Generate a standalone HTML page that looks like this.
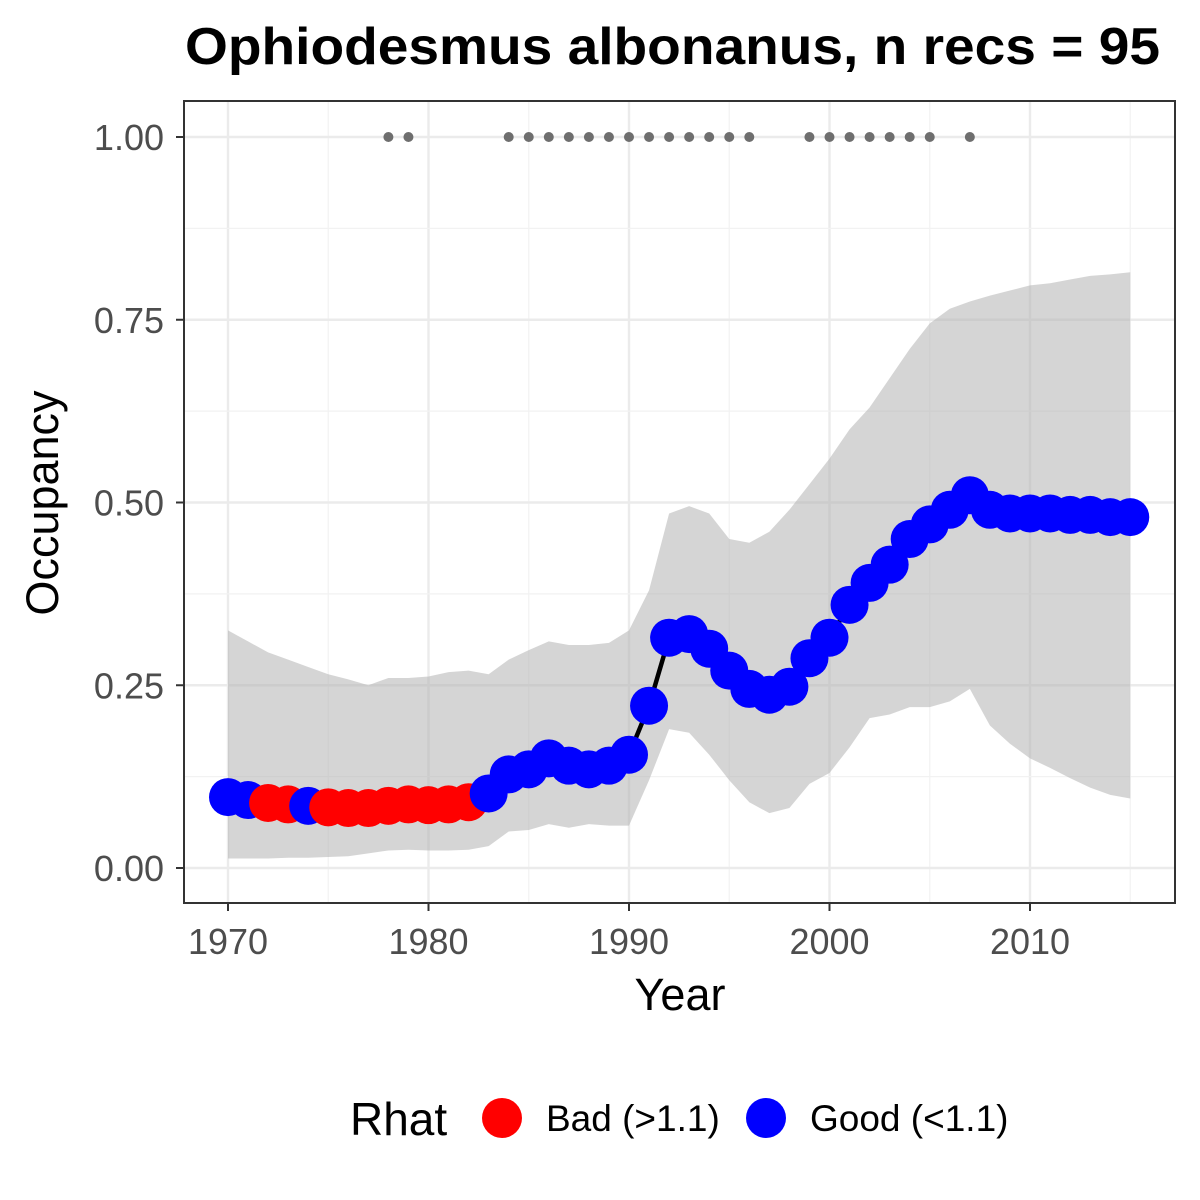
<!DOCTYPE html>
<html><head><meta charset="utf-8"><style>body{margin:0;background:#fff}svg{display:block;font-family:"Liberation Sans",Arial,sans-serif}</style></head>
<body>
<svg id="chart" width="1200" height="1200" viewBox="0 0 1200 1200">
<text x="185" y="64" font-size="52" font-weight="bold" textLength="975" lengthAdjust="spacingAndGlyphs">Ophiodesmus albonanus, n recs = 95</text>
<g id="grid"></g>
<g id="band"></g>
<g id="line"></g>
<g id="pts"></g>
<g id="recs"></g>
<rect x="184" y="101" width="991" height="802" fill="none" stroke="#333" stroke-width="2"/>
<g id="axes"></g>
<text x="680" y="1010" text-anchor="middle" font-size="45">Year</text>
<text transform="translate(58,503) rotate(-90)" text-anchor="middle" font-size="45">Occupancy</text>
<g>
<text x="350" y="1135" font-size="46">Rhat</text>
<circle cx="502" cy="1118" r="20" fill="#ff0000"/>
<text x="546" y="1131" font-size="37">Bad (&gt;1.1)</text>
<circle cx="766" cy="1118" r="20" fill="#0000ff"/>
<text x="810" y="1131" font-size="37">Good (&lt;1.1)</text>
</g>
</svg>
<script>
const years=[1970,1971,1972,1973,1974,1975,1976,1977,1978,1979,1980,1981,1982,1983,1984,1985,1986,1987,1988,1989,1990,1991,1992,1993,1994,1995,1996,1997,1998,1999,2000,2001,2002,2003,2004,2005,2006,2007,2008,2009,2010,2011,2012,2013,2014,2015];
const occ=[0.097,0.093,0.089,0.087,0.085,0.083,0.082,0.082,0.085,0.087,0.086,0.087,0.09,0.102,0.128,0.135,0.15,0.14,0.135,0.14,0.155,0.222,0.315,0.32,0.30,0.27,0.245,0.237,0.248,0.287,0.315,0.36,0.39,0.415,0.45,0.47,0.49,0.51,0.49,0.485,0.485,0.485,0.483,0.483,0.48,0.48];
const rhatBad=[0,0,1,1,0,1,1,1,1,1,1,1,1,0,0,0,0,0,0,0,0,0,0,0,0,0,0,0,0,0,0,0,0,0,0,0,0,0,0,0,0,0,0,0,0,0];
const upper=[0.325,0.31,0.295,0.285,0.275,0.265,0.258,0.25,0.26,0.26,0.262,0.268,0.27,0.265,0.285,0.298,0.31,0.305,0.305,0.308,0.325,0.38,0.485,0.495,0.485,0.45,0.445,0.46,0.49,0.525,0.56,0.6,0.63,0.67,0.71,0.745,0.765,0.775,0.783,0.79,0.797,0.8,0.805,0.81,0.812,0.815];
const lower=[0.013,0.013,0.013,0.014,0.014,0.015,0.016,0.02,0.024,0.025,0.024,0.024,0.025,0.03,0.05,0.052,0.06,0.055,0.06,0.058,0.058,0.12,0.19,0.185,0.155,0.12,0.09,0.075,0.082,0.115,0.13,0.165,0.205,0.21,0.22,0.22,0.228,0.245,0.195,0.17,0.15,0.137,0.123,0.11,0.1,0.095];
const recordYears=[1978,1979,1984,1985,1986,1987,1988,1989,1990,1991,1992,1993,1994,1995,1996,1999,2000,2001,2002,2003,2004,2005,2007];
const xTicks=[1970,1980,1990,2000,2010];
const yTicks=[0,0.25,0.5,0.75,1];
const yTickLabels=["0.00","0.25","0.50","0.75","1.00"];
const NS="http://www.w3.org/2000/svg";
const X=v=>228+(v-1970)*20.05, Y=v=>868-v*731;
function mk(t,a,p){const e=document.createElementNS(NS,t);for(const k in a)e.setAttribute(k,a[k]);document.getElementById(p).appendChild(e);return e;}
for(let i=0;i<xTicks.length;i++){const v=xTicks[i];
 let g=mk('line',{x1:X(v),x2:X(v),y1:101,y2:903,stroke:'#ebebeb','stroke-width':2.4},'grid');
 let m=mk('line',{x1:X(v+5),x2:X(v+5),y1:101,y2:903,stroke:'#f2f2f2','stroke-width':1.2},'grid');
 let t=mk('line',{x1:X(v),x2:X(v),y1:903,y2:911,stroke:'#333','stroke-width':2},'axes');
 let l=mk('text',{x:X(v),y:954,'text-anchor':'middle','font-size':36,fill:'#4d4d4d'},'axes');l.textContent=v;}
for(let i=0;i<yTicks.length;i++){const v=yTicks[i];
 let g=mk('line',{x1:184,x2:1175,y1:Y(v),y2:Y(v),stroke:'#ebebeb','stroke-width':2.4},'grid');
 if(i<yTicks.length-1){let m=mk('line',{x1:184,x2:1175,y1:Y(v+0.125),y2:Y(v+0.125),stroke:'#f2f2f2','stroke-width':1.2},'grid');}
 let t=mk('line',{x1:176,x2:184,y1:Y(v),y2:Y(v),stroke:'#333','stroke-width':2},'axes');
 let l=mk('text',{x:164,y:Y(v)+13,'text-anchor':'end','font-size':36,fill:'#4d4d4d'},'axes');l.textContent=yTickLabels[i];}
let d=years.map((y,i)=>(i?'L':'M')+X(y)+','+Y(upper[i])).join('');
for(let i=years.length-1;i>=0;i--)d+='L'+X(years[i])+','+Y(lower[i]);
let b=mk('path',{d:d+'Z',fill:'#b3b3b3','fill-opacity':0.55},'band');
let ln=mk('polyline',{points:years.map((y,i)=>X(y)+','+Y(occ[i])).join(' '),fill:'none',stroke:'#000','stroke-width':4.5},'line');
years.forEach((y,i)=>{const c=mk('circle',{cx:X(y),cy:Y(occ[i]),r:19,fill:rhatBad[i]?'#ff0000':'#0000ff'},'pts');
 
 });
recordYears.forEach(y=>{const c=mk('circle',{cx:X(y),cy:Y(1),r:5,fill:'#6e6e6e'},'recs');
 
 });
</script>
</body></html>
